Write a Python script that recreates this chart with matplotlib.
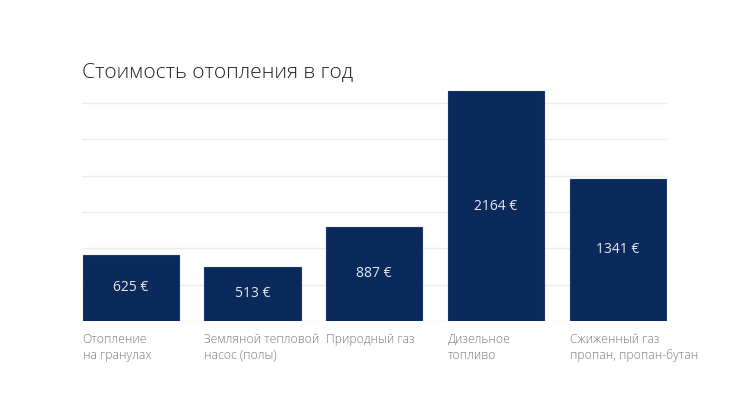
import matplotlib.pyplot as plt
import numpy as np

categories = [
    "Отопление\nна гранулах",
    "Земляной тепловой\nнасос (полы)",
    "Природный газ",
    "Дизельное\nтопливо",
    "Сжиженный газ\nпропан, пропан-бутан",
]
costs = [625, 513, 887, 2164, 1341]
title = "Стоимость отопления в год"

BAR = "#0b2a5c"
GRID = "#ececec"
LABEL = "#777777"

plt.rcParams["font.family"] = ["Open Sans", "DejaVu Sans"]

fig = plt.figure(figsize=(7.5, 4.18), dpi=100)
ax = fig.add_axes([0.1093, 0.2321, 0.7794, 0.5589])

x = np.arange(len(costs))
bars = ax.bar(x, costs, width=0.79, color=BAR, edgecolor="#1d3570",
              linewidth=0.8, zorder=3)

for xi, v in zip(x, costs):
    ax.text(xi, v / 2, f"{v} €", ha="center", va="center", color="#e6e8f0",
            fontsize=10, zorder=4)

ax.set_xlim(-0.4, 4.4)
ax.set_ylim(0, 2200)
ax.set_yticks(np.arange(0, 2200, 342))
ax.grid(axis="y", color=GRID, linewidth=1.0, zorder=0)
ax.tick_params(left=False, bottom=False, labelleft=False, labelbottom=False)
for s in ax.spines.values():
    s.set_visible(False)

for xi, cat in zip(x, categories):
    ax.text(xi - 0.395, -0.05, cat, transform=ax.get_xaxis_transform(),
            ha="left", va="top", fontsize=8.7, color=LABEL, fontweight="light",
            linespacing=1.3)

fig.text(0.1093, 0.826, title, ha="left", va="center", fontsize=15,
         color="#222222", fontweight="light")

fig.savefig("out.png", dpi=100, facecolor="white")
